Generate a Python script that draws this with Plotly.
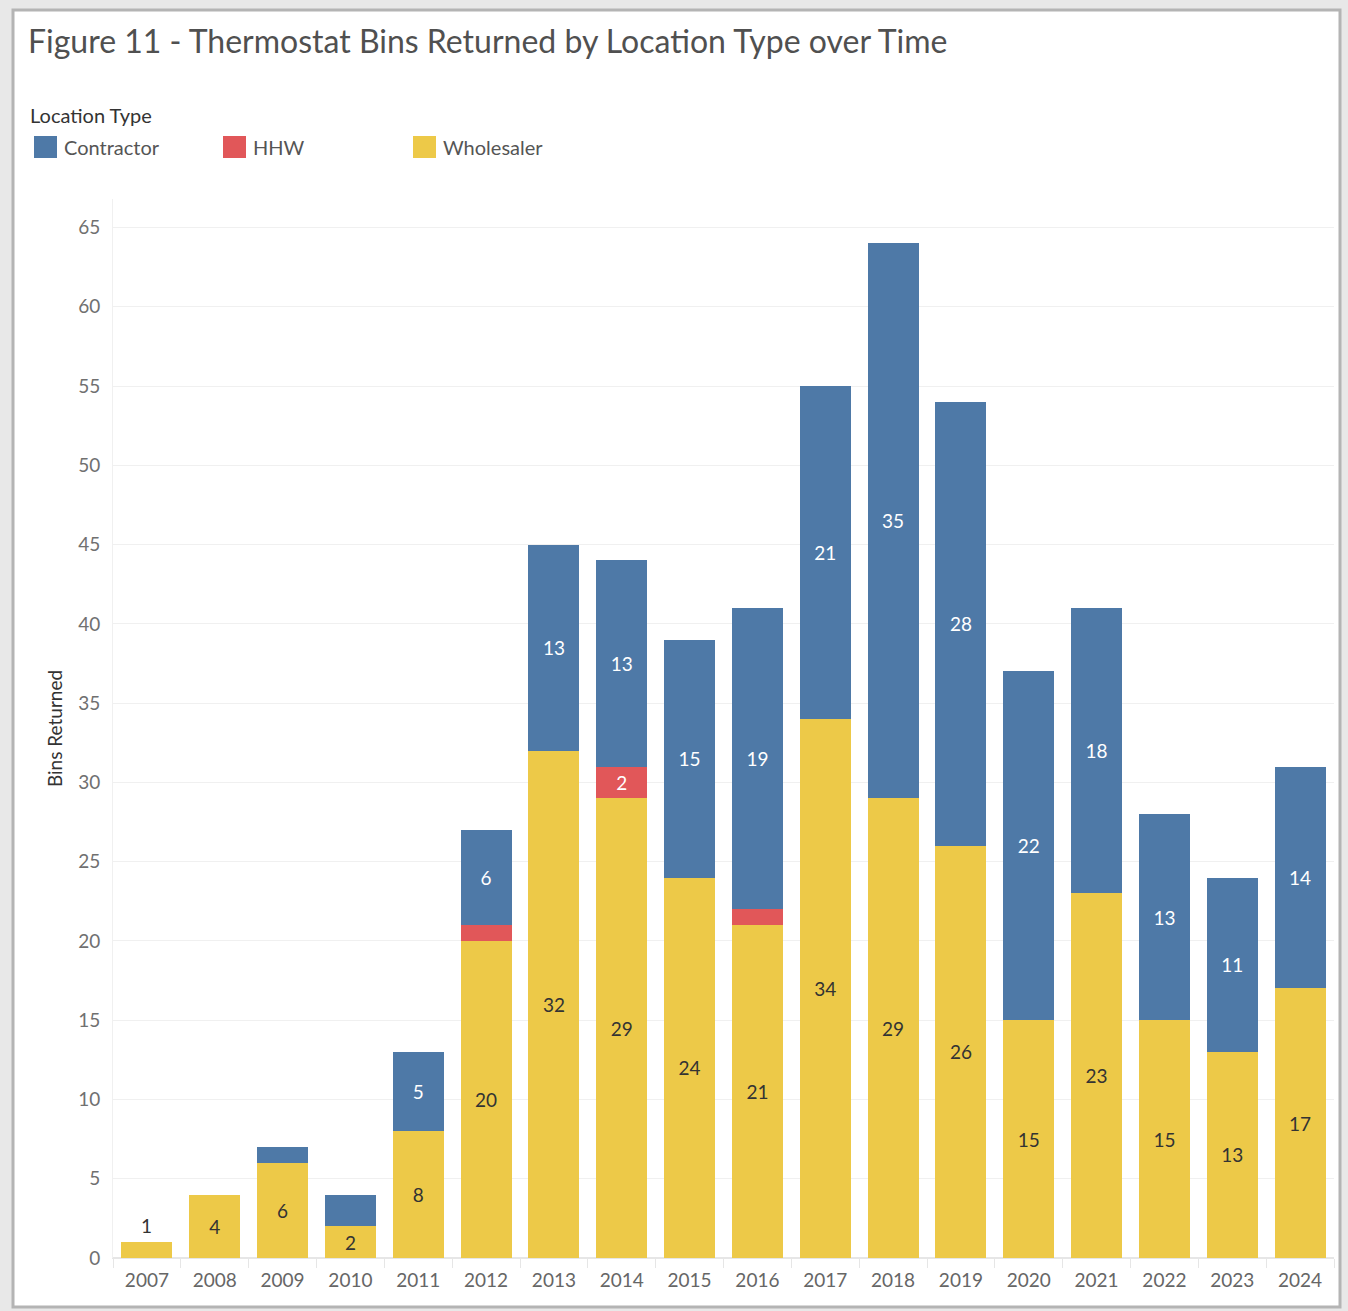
import plotly.graph_objects as go

# data
years = ['2007', '2008', '2009', '2010', '2011', '2012', '2013', '2014', '2015',
	'2016', '2017', '2018', '2019', '2020', '2021', '2022', '2023', '2024']
wholesaler = [1, 4, 6, 2, 8, 20, 32, 29, 24, 21, 34, 29, 26, 15, 23, 15, 13, 17]
hhw = [0, 0, 0, 0, 0, 1, 0, 2, 0, 1, 0, 0, 0, 0, 0, 0, 0, 0]
contractor = [0, 0, 1, 2, 5, 6, 13, 13, 15, 19, 21, 35, 28, 22, 18, 13, 11, 14]
y_ticks = [0, 5, 10, 15, 20, 25, 30, 35, 40, 45, 50, 55, 60, 65]

# look
W, H = 1348, 1311
L, R, T, B = 113, 14, 199, 53
FONT = 'Lato'
colors = {'Contractor': '#4e79a7', 'HHW': '#e15759', 'Wholesaler': '#edc948'}
text_colors = {'Contractor': 'white', 'HHW': 'white', 'Wholesaler': '#333333'}
label_min = {'Contractor': 3, 'HHW': 2, 'Wholesaler': 2}


def px_x(p):
	return (p - L) / (W - L - R)


def px_y(p):
	return (H - B - p) / (H - T - B)


# stack order, bottom first
series = [('Wholesaler', wholesaler), ('HHW', hhw), ('Contractor', contractor)]

fig = go.Figure()
for name, values in series:
	fig.add_trace(go.Bar(
		name=name,
		x=years,
		y=values,
		marker={'color': colors[name], 'line': {'width': 0}},
		text=[str(v) if v >= label_min[name] else '' for v in values],
		textposition='inside',
		insidetextanchor='middle',
		constraintext='none',
		textangle=0,
		textfont={'family': FONT, 'size': 19, 'color': text_colors[name]},
		showlegend=False,
	))

# small bottom segments get their label above the bar
annotations = []
for i, v in enumerate(wholesaler):
	if 0 < v < label_min['Wholesaler']:
		annotations.append({
			'x': i, 'y': v, 'xref': 'x', 'yref': 'y', 'text': str(v),
			'showarrow': False, 'yanchor': 'bottom', 'yshift': 3,
			'font': {'family': FONT, 'size': 19, 'color': '#333333'},
		})

# hand drawn legend
annotations.append({
	'x': px_x(28), 'y': px_y(115), 'xref': 'paper', 'yref': 'paper', 'text': 'Location Type',
	'showarrow': False, 'xanchor': 'left', 'yanchor': 'middle',
	'font': {'family': FONT, 'size': 20, 'color': '#333333'},
})
shapes = [{
	'type': 'rect', 'xref': 'paper', 'yref': 'paper', 'layer': 'below',
	'x0': px_x(13), 'x1': px_x(1340), 'y0': px_y(10), 'y1': px_y(1307),
	'fillcolor': 'white', 'line': {'color': '#b4b4b4', 'width': 3},
}]
for (name, _), left in zip(sorted(series), [34, 223, 413]):
	shapes.append({
		'type': 'rect', 'xref': 'paper', 'yref': 'paper',
		'x0': px_x(left), 'x1': px_x(left + 23), 'y0': px_y(136), 'y1': px_y(158),
		'fillcolor': colors[name], 'line': {'width': 0},
	})
	annotations.append({
		'x': px_x(left + 28), 'y': px_y(147), 'xref': 'paper', 'yref': 'paper', 'text': name,
		'showarrow': False, 'xanchor': 'left', 'yanchor': 'middle',
		'font': {'family': FONT, 'size': 20, 'color': '#555555'},
	})

# configure layout
fig.update_layout(
	width=W,
	height=H,
	margin={'l': L, 'r': R, 't': T, 'b': B},
	barmode='stack',
	bargap=0.25,
	paper_bgcolor='#e8e8e8',
	plot_bgcolor='rgba(0, 0, 0, 0)',
	font={'family': FONT, 'color': '#555555'},
	title={
		'text': 'Figure 11 - Thermostat Bins Returned by Location Type over Time',
		'x': 28 / W, 'xanchor': 'left', 'xref': 'container',
		'y': 1 - 42 / H, 'yanchor': 'middle', 'yref': 'container',
		'font': {'family': FONT, 'size': 32, 'color': '#505050'},
	},
	shapes=shapes,
	annotations=annotations,
)
fig.update_xaxes(
	type='category',
	ticks='outside',
	tickson='boundaries',
	ticklen=9,
	tickcolor='#e6e6e6',
	ticklabelstandoff=5,
	showline=True,
	linecolor='#e6e6e6',
	showgrid=False,
	tickangle=0,
	tickfont={'family': FONT, 'size': 19, 'color': '#666666'},
)
fig.update_yaxes(
	range=[0, 66.8],
	tickvals=y_ticks,
	showgrid=True,
	gridcolor='#f0f0f0',
	zeroline=True,
	zerolinecolor='#e6e6e6',
	showline=True,
	linecolor='#f0f0f0',
	ticks='',
	ticklabelstandoff=8,
	tickfont={'family': FONT, 'size': 19, 'color': '#707070'},
	title={'text': 'Bins Returned', 'standoff': 10, 'font': {'family': FONT, 'size': 19, 'color': '#333333'}},
)

# page has a default body margin, drop it so the figure sits at the corner
fig.write_html(
	'out.html',
	config={'displayModeBar': False},
	post_script="document.body.style.margin = '0';",
)
